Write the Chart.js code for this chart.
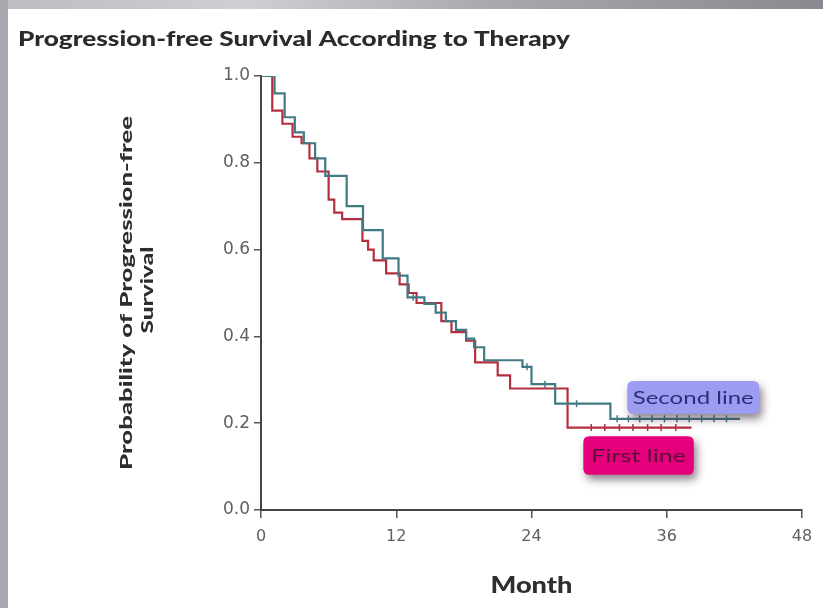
<!DOCTYPE html>
<html>
<head>
<meta charset="utf-8">
<title>Progression-free Survival According to Therapy</title>
<script src="https://cdn.jsdelivr.net/npm/chart.js@4.4.1/dist/chart.umd.min.js"></script>
<style>
  html, body { margin: 0; padding: 0; background: #ffffff; }
  #wrap { width: 823px; height: 608px; position: relative; }
  canvas { display: block; }
</style>
</head>
<body>
<div id="wrap"><canvas id="pfs" width="823" height="608"></canvas></div>
<script>
// Axis ticks
const monthTicks = [0, 12, 24, 36, 48];
const monthTickLabels = ['0', '12', '24', '36', '48'];
const probTicks = [0, 0.2, 0.4, 0.6, 0.8, 1.0];
const probTickLabels = ['0.0', '0.2', '0.4', '0.6', '0.8', '1.0'];

// Kaplan-Meier estimate, first-line therapy (month of each step, survival after it)
const firstMonths = [0, 1.0, 1.9, 2.8, 3.6, 4.3, 5.0, 6.0, 6.5, 7.2, 9.0, 9.5, 10.0, 11.1, 12.3, 13.1, 13.8, 16.0, 16.9, 18.2, 19.0, 21.0, 22.1, 27.2, 38.2];
const firstSurv   = [1.0, 0.92, 0.89, 0.86, 0.845, 0.81, 0.78, 0.715, 0.685, 0.67, 0.62, 0.60, 0.575, 0.545, 0.52, 0.50, 0.477, 0.435, 0.41, 0.39, 0.34, 0.31, 0.28, 0.19, 0.19];

// Kaplan-Meier estimate, second-line therapy
const secondMonths = [0, 1.2, 2.1, 3.0, 3.8, 4.8, 5.7, 7.6, 9.05, 10.8, 12.2, 13.0, 14.5, 15.5, 16.4, 17.3, 18.2, 18.9, 19.8, 23.2, 24.0, 26.1, 31.0, 42.5];
const secondSurv   = [1.0, 0.96, 0.905, 0.87, 0.845, 0.81, 0.77, 0.70, 0.645, 0.58, 0.54, 0.49, 0.475, 0.455, 0.435, 0.415, 0.395, 0.375, 0.345, 0.33, 0.29, 0.245, 0.21, 0.21];

// Censored observations
const firstCensorMonths = [29.3, 30.5, 31.8, 33.0, 34.3, 35.5, 36.8];
const firstCensorSurv   = [0.19, 0.19, 0.19, 0.19, 0.19, 0.19, 0.19];
const secondCensorMonths = [13.5, 23.6, 25.2, 28.0, 31.6, 32.6, 33.6, 34.7, 35.8, 36.9, 38.0, 39.1, 40.2, 41.3];
const secondCensorSurv   = [0.49, 0.33, 0.29, 0.245, 0.21, 0.21, 0.21, 0.21, 0.21, 0.21, 0.21, 0.21, 0.21, 0.21];

const seriesNames = ['First line', 'Second line'];

const RED = '#b32f40';
const TEAL = '#417a82';

const pts = (xs, ys) => xs.map((x, i) => ({ x: x, y: ys[i] }));

// Draws a single line of text centred on (x, y), stretched to a given length.
function fitText(ctx, text, o) {
  ctx.save();
  ctx.font = `${o.weight || 'bold'} ${o.size}px ${o.family || 'Lato, sans-serif'}`;
  const w = ctx.measureText(text).width;
  ctx.translate(o.x, o.y);
  if (o.rotate) ctx.rotate(o.rotate);
  ctx.scale(o.len / w, 1);
  ctx.textAlign = 'center';
  ctx.textBaseline = o.baseline || 'alphabetic';
  ctx.fillStyle = o.color || '#333';
  ctx.fillText(text, 0, 0);
  ctx.restore();
}

function roundRect(ctx, x, y, w, h, r) {
  ctx.beginPath();
  ctx.moveTo(x + r, y);
  ctx.lineTo(x + w - r, y);
  ctx.quadraticCurveTo(x + w, y, x + w, y + r);
  ctx.lineTo(x + w, y + h - r);
  ctx.quadraticCurveTo(x + w, y + h, x + w - r, y + h);
  ctx.lineTo(x + r, y + h);
  ctx.quadraticCurveTo(x, y + h, x, y + h - r);
  ctx.lineTo(x, y + r);
  ctx.quadraticCurveTo(x, y, x + r, y);
  ctx.closePath();
}

// Slide frame: grey strip down the left side and a shaded band along the top
const framePlugin = {
  id: 'frame',
  beforeDraw(chart) {
    const ctx = chart.ctx;
    ctx.save();
    ctx.fillStyle = '#ffffff';
    ctx.fillRect(0, 0, chart.width, chart.height);
    const g = ctx.createLinearGradient(0, 0, chart.width, 0);
    g.addColorStop(0, '#bdbcc2');
    g.addColorStop(0.3, '#cfced3');
    g.addColorStop(0.6, '#a9a8ae');
    g.addColorStop(1, '#8a8990');
    ctx.fillStyle = g;
    ctx.fillRect(0, 0, chart.width, 9);
    ctx.fillStyle = '#a9a8ae';
    ctx.fillRect(0, 0, 8, chart.height);
    ctx.restore();
  }
};

// Title and axis titles
const textPlugin = {
  id: 'texts',
  afterDraw(chart) {
    const ctx = chart.ctx;
    const a = chart.chartArea;
    fitText(ctx, 'Progression-free Survival According to Therapy',
      { x: 294, y: 46, len: 552, size: 20, weight: '900', color: '#2b2b2b' });
    fitText(ctx, 'Month',
      { x: (a.left + a.right) / 2, y: 593, len: 82, size: 22, weight: '900', color: '#2e2e2e' });
    fitText(ctx, 'Probability of Progression-free',
      { x: 127, y: (a.top + a.bottom) / 2, len: 354, size: 16, weight: '900', rotate: -Math.PI / 2, baseline: 'middle', color: '#2e2e2e' });
    fitText(ctx, 'Survival',
      { x: 148, y: (a.top + a.bottom) / 2 - 3, len: 87, size: 16, weight: '900', rotate: -Math.PI / 2, baseline: 'middle', color: '#2e2e2e' });
  }
};

// Series name tags next to the curve tails
const tagPlugin = {
  id: 'tags',
  afterDatasetsDraw(chart) {
    const ctx = chart.ctx;
    const xs = chart.scales.x, ys = chart.scales.y;
    const tags = [
      { name: seriesNames[1], m0: 32.5, m1: 44.2, s0: 0.297, s1: 0.222, fill: '#9c9df2', text: '#2c2f78', len: 121, size: 17 },
      { name: seriesNames[0], m0: 28.6, m1: 38.4, s0: 0.170, s1: 0.081, fill: '#e4007a', text: '#5a0f36', len: 95, size: 17 }
    ];
    tags.forEach(t => {
      const x0 = xs.getPixelForValue(t.m0), x1 = xs.getPixelForValue(t.m1);
      const y0 = ys.getPixelForValue(t.s0), y1 = ys.getPixelForValue(t.s1);
      ctx.save();
      ctx.shadowColor = 'rgba(50,30,50,0.55)';
      ctx.shadowBlur = 8;
      ctx.shadowOffsetX = 3;
      ctx.shadowOffsetY = 5;
      roundRect(ctx, x0, y0, x1 - x0, y1 - y0, 6);
      ctx.fillStyle = t.fill;
      ctx.fill();
      ctx.restore();
      fitText(ctx, t.name, { x: (x0 + x1) / 2, y: (y0 + y1) / 2 + 1, len: t.len, size: t.size,
        weight: 'normal', baseline: 'middle', color: t.text });
    });
  }
};

new Chart(document.getElementById('pfs'), {
  type: 'line',
  data: {
    datasets: [
      {
        label: seriesNames[1],
        data: pts(secondMonths, secondSurv),
        stepped: true,
        borderColor: TEAL,
        borderWidth: 2.2,
        pointRadius: 0,
        fill: false
      },
      {
        label: seriesNames[0],
        data: pts(firstMonths, firstSurv),
        stepped: true,
        borderColor: RED,
        borderWidth: 2.2,
        pointRadius: 0,
        fill: false
      },
      {
        type: 'scatter',
        label: seriesNames[1] + ' censored',
        data: pts(secondCensorMonths, secondCensorSurv),
        pointStyle: 'line',
        rotation: 90,
        radius: 3.5,
        borderColor: TEAL,
        borderWidth: 1.5,
        showLine: false
      },
      {
        type: 'scatter',
        label: seriesNames[0] + ' censored',
        data: pts(firstCensorMonths, firstCensorSurv),
        pointStyle: 'line',
        rotation: 90,
        radius: 3.5,
        borderColor: RED,
        borderWidth: 1.5,
        showLine: false
      }
    ]
  },
  options: {
    responsive: false,
    animation: false,
    devicePixelRatio: 1,
    layout: { padding: { left: 0, right: 21, top: 76, bottom: 0 } },
    plugins: {
      legend: { display: false },
      title: { display: false },
      tooltip: { enabled: false }
    },
    scales: {
      x: {
        type: 'linear',
        min: 0,
        max: 48,
        afterBuildTicks: s => { s.ticks = monthTicks.map(v => ({ value: v })); },
        afterFit: s => { s.height = 98; },
        ticks: {
          callback: (v, i) => monthTickLabels[i],
          color: '#606060',
          font: { family: 'DejaVu Sans', size: 16 },
          padding: 9,
          maxRotation: 0
        },
        grid: { drawOnChartArea: false, drawTicks: true, tickLength: 8, color: '#555555', lineWidth: 1.5 },
        border: { display: true, color: '#454545', width: 2 }
      },
      y: {
        type: 'linear',
        min: 0,
        max: 1,
        afterBuildTicks: s => { s.ticks = probTicks.map(v => ({ value: v })); },
        afterFit: s => { s.width = 261; },
        ticks: {
          callback: (v, i) => probTickLabels[i],
          color: '#606060',
          font: { family: 'DejaVu Sans', size: 17 },
          padding: 4
        },
        grid: { drawOnChartArea: false, drawTicks: true, tickLength: 7, color: '#555555', lineWidth: 1.5 },
        border: { display: true, color: '#454545', width: 2 }
      }
    }
  },
  plugins: [framePlugin, tagPlugin, textPlugin]
});
</script>
</body>
</html>
